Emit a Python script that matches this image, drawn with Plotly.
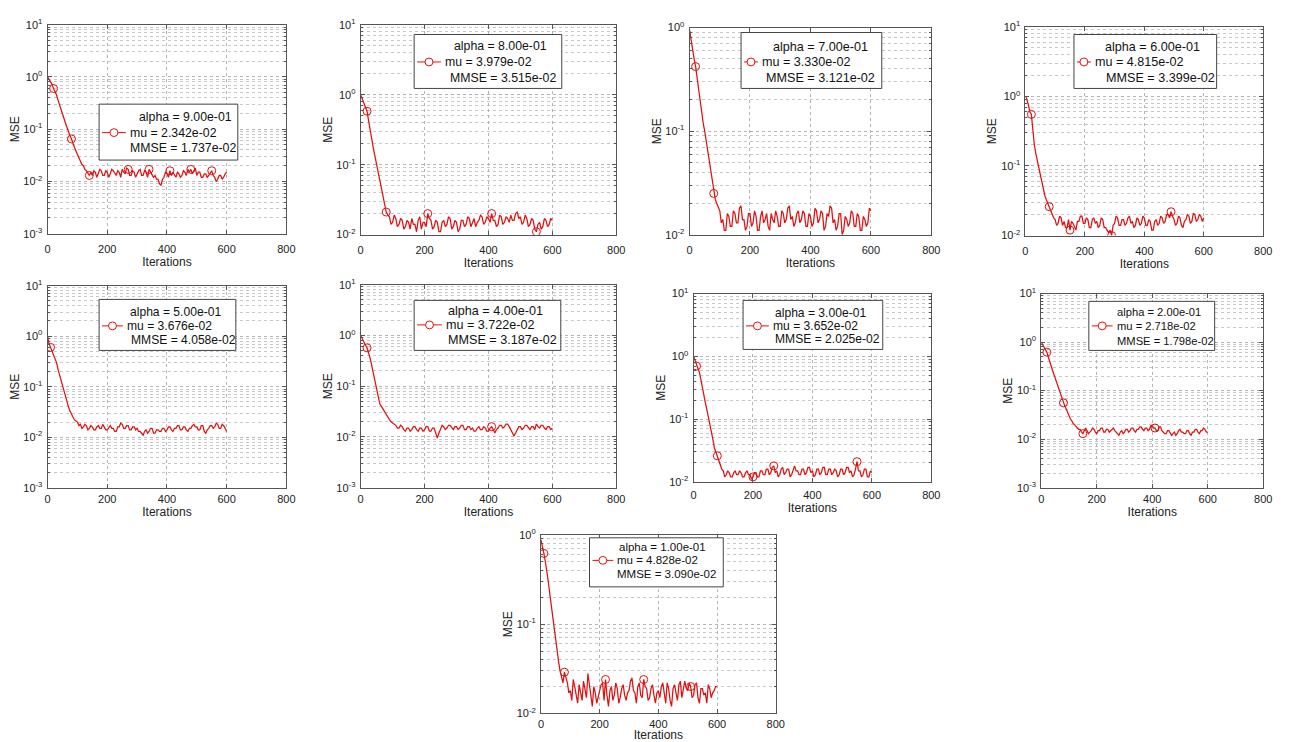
import plotly.graph_objects as go

W, H = 1293, 742

# ---------------- data ----------------
iterations = list(range(0, 601, 5))

alpha_text = ["9.00e-01", "8.00e-01", "7.00e-01", "6.00e-01", "5.00e-01",
              "4.00e-01", "3.00e-01", "2.00e-01", "1.00e-01"]
mu_text = ["2.342e-02", "3.979e-02", "3.330e-02", "4.815e-02", "3.676e-02",
           "3.722e-02", "3.652e-02", "2.718e-02", "4.828e-02"]
mmse_text = ["1.737e-02", "3.515e-02", "3.121e-02", "3.399e-02", "4.058e-02",
             "3.187e-02", "2.025e-02", "1.798e-02", "3.090e-02"]

mse_a09 = [1.0, 0.9, 0.8, 0.72, 0.6, 0.52, 0.45, 0.36, 0.3, 0.24,
           0.2, 0.16, 0.13, 0.105, 0.09, 0.075, 0.065, 0.052, 0.045, 0.038,
           0.033, 0.028, 0.025, 0.021, 0.02, 0.017, 0.016, 0.014, 0.013, 0.015,
           0.013, 0.016, 0.015, 0.012, 0.014, 0.017, 0.016, 0.013, 0.013, 0.016,
           0.015, 0.012, 0.014, 0.017, 0.016, 0.014, 0.013, 0.016, 0.015, 0.012,
           0.017, 0.015, 0.014, 0.018, 0.017, 0.013, 0.013, 0.016, 0.015, 0.012,
           0.014, 0.016, 0.017, 0.013, 0.013, 0.016, 0.015, 0.012, 0.017, 0.015,
           0.014, 0.012, 0.013, 0.011, 0.011, 0.009, 0.0085, 0.011, 0.012, 0.015,
           0.014, 0.012, 0.016, 0.013, 0.015, 0.013, 0.012, 0.015, 0.014, 0.012,
           0.013, 0.016, 0.015, 0.013, 0.017, 0.015, 0.017, 0.014, 0.016, 0.018,
           0.013, 0.015, 0.015, 0.012, 0.012, 0.014, 0.014, 0.012, 0.013, 0.015,
           0.016, 0.013, 0.012, 0.010, 0.011, 0.013, 0.013, 0.011, 0.012, 0.014,
           0.015]
mse_a08 = [1.0, 0.88, 0.75, 0.65, 0.58, 0.42, 0.3, 0.23, 0.17, 0.13,
           0.1, 0.075, 0.055, 0.042, 0.032, 0.026, 0.021, 0.019, 0.018, 0.014,
           0.015, 0.019, 0.017, 0.013, 0.014, 0.017, 0.016, 0.012, 0.013, 0.016,
           0.015, 0.012, 0.017, 0.014, 0.014, 0.011, 0.016, 0.018, 0.012, 0.015,
           0.015, 0.013, 0.02, 0.017, 0.016, 0.012, 0.013, 0.016, 0.015, 0.011,
           0.011, 0.015, 0.016, 0.013, 0.014, 0.018, 0.017, 0.012, 0.013, 0.016,
           0.015, 0.011, 0.012, 0.016, 0.016, 0.013, 0.014, 0.018, 0.017, 0.013,
           0.015, 0.017, 0.013, 0.015, 0.016, 0.019, 0.018, 0.014, 0.015, 0.018,
           0.017, 0.015, 0.02, 0.016, 0.016, 0.013, 0.014, 0.019, 0.018, 0.014,
           0.015, 0.018, 0.017, 0.015, 0.019, 0.016, 0.016, 0.02, 0.021, 0.017,
           0.018, 0.014, 0.015, 0.019, 0.017, 0.013, 0.014, 0.017, 0.016, 0.012,
           0.011, 0.014, 0.015, 0.012, 0.013, 0.017, 0.016, 0.013, 0.014, 0.017,
           0.016]
mse_a07 = [0.95, 0.75, 0.6, 0.5, 0.42, 0.32, 0.25, 0.19, 0.15, 0.12,
           0.1, 0.08, 0.065, 0.05, 0.04, 0.032, 0.025, 0.022, 0.02, 0.018,
           0.017, 0.013, 0.014, 0.011, 0.011, 0.016, 0.015, 0.012, 0.012, 0.017,
           0.016, 0.013, 0.013, 0.018, 0.019, 0.014, 0.014, 0.011, 0.012, 0.016,
           0.016, 0.012, 0.013, 0.017, 0.015, 0.011, 0.011, 0.015, 0.017, 0.013,
           0.014, 0.016, 0.012, 0.011, 0.016, 0.014, 0.013, 0.017, 0.015, 0.012,
           0.012, 0.017, 0.016, 0.013, 0.014, 0.018, 0.019, 0.014, 0.015, 0.012,
           0.013, 0.016, 0.017, 0.013, 0.014, 0.017, 0.016, 0.012, 0.012, 0.016,
           0.015, 0.012, 0.013, 0.018, 0.017, 0.013, 0.014, 0.017, 0.016, 0.011,
           0.012, 0.016, 0.015, 0.019, 0.018, 0.013, 0.014, 0.011, 0.012, 0.016,
           0.016, 0.01, 0.011, 0.015, 0.014, 0.012, 0.013, 0.017, 0.016, 0.012,
           0.012, 0.016, 0.015, 0.011, 0.011, 0.015, 0.014, 0.012, 0.013, 0.018,
           0.017]
mse_a06 = [1.0, 0.9, 0.75, 0.6, 0.55, 0.32, 0.2, 0.15, 0.12, 0.09,
           0.07, 0.055, 0.045, 0.038, 0.033, 0.029, 0.026, 0.022, 0.02, 0.018,
           0.017, 0.014, 0.015, 0.019, 0.018, 0.014, 0.016, 0.013, 0.013, 0.017,
           0.012, 0.016, 0.015, 0.013, 0.012, 0.016, 0.016, 0.019, 0.019, 0.015,
           0.015, 0.018, 0.017, 0.013, 0.013, 0.017, 0.018, 0.015, 0.016, 0.013,
           0.014, 0.018, 0.017, 0.013, 0.013, 0.012, 0.011, 0.012, 0.01, 0.014,
           0.015, 0.019, 0.018, 0.014, 0.014, 0.017, 0.017, 0.014, 0.015, 0.018,
           0.019, 0.015, 0.016, 0.013, 0.014, 0.018, 0.017, 0.014, 0.015, 0.019,
           0.018, 0.014, 0.014, 0.017, 0.016, 0.012, 0.012, 0.016, 0.017, 0.014,
           0.015, 0.019, 0.018, 0.015, 0.016, 0.02, 0.02, 0.018, 0.022, 0.019,
           0.017, 0.014, 0.015, 0.019, 0.018, 0.014, 0.013, 0.016, 0.017, 0.02,
           0.019, 0.015, 0.016, 0.021, 0.02, 0.016, 0.017, 0.02, 0.019, 0.016,
           0.018]
mse_a05 = [1.0, 0.7, 0.6, 0.5, 0.42, 0.36, 0.3, 0.22, 0.17, 0.13,
           0.1, 0.078, 0.06, 0.048, 0.04, 0.033, 0.028, 0.024, 0.022, 0.021,
           0.02, 0.017, 0.018, 0.015, 0.016, 0.018, 0.017, 0.014, 0.015, 0.017,
           0.016, 0.014, 0.014, 0.016, 0.017, 0.015, 0.015, 0.018, 0.016, 0.014,
           0.014, 0.016, 0.017, 0.015, 0.015, 0.013, 0.013, 0.016, 0.016, 0.019,
           0.018, 0.015, 0.015, 0.017, 0.017, 0.014, 0.014, 0.016, 0.016, 0.014,
           0.015, 0.013, 0.013, 0.012, 0.011, 0.013, 0.014, 0.012, 0.013, 0.015,
           0.015, 0.012, 0.012, 0.014, 0.014, 0.013, 0.013, 0.015, 0.015, 0.013,
           0.014, 0.016, 0.016, 0.014, 0.013, 0.015, 0.015, 0.017, 0.017, 0.014,
           0.014, 0.016, 0.016, 0.014, 0.013, 0.015, 0.015, 0.017, 0.018, 0.016,
           0.016, 0.014, 0.014, 0.017, 0.017, 0.013, 0.012, 0.014, 0.015, 0.017,
           0.017, 0.015, 0.016, 0.019, 0.018, 0.015, 0.015, 0.018, 0.017, 0.015,
           0.013]
mse_a04 = [1.0, 0.85, 0.75, 0.65, 0.57, 0.45, 0.35, 0.25, 0.18, 0.13,
           0.1, 0.065, 0.045, 0.04, 0.035, 0.031, 0.028, 0.025, 0.022, 0.02,
           0.019, 0.018, 0.017, 0.015, 0.015, 0.017, 0.016, 0.014, 0.013, 0.015,
           0.015, 0.013, 0.014, 0.016, 0.016, 0.014, 0.013, 0.015, 0.015, 0.013,
           0.014, 0.016, 0.016, 0.013, 0.013, 0.015, 0.015, 0.012, 0.0095, 0.012,
           0.014, 0.017, 0.016, 0.014, 0.015, 0.017, 0.017, 0.015, 0.014, 0.016,
           0.016, 0.014, 0.015, 0.017, 0.017, 0.014, 0.014, 0.016, 0.016, 0.014,
           0.015, 0.013, 0.013, 0.015, 0.016, 0.014, 0.014, 0.016, 0.015, 0.013,
           0.013, 0.015, 0.016, 0.014, 0.012, 0.014, 0.015, 0.017, 0.017, 0.015,
           0.016, 0.018, 0.018, 0.016, 0.014, 0.012, 0.0105, 0.012, 0.014, 0.016,
           0.016, 0.014, 0.015, 0.017, 0.017, 0.015, 0.014, 0.016, 0.016, 0.014,
           0.018, 0.016, 0.015, 0.017, 0.017, 0.015, 0.014, 0.016, 0.016, 0.014,
           0.015]
mse_a03 = [1.0, 0.85, 0.7, 0.62, 0.55, 0.42, 0.3, 0.23, 0.18, 0.14,
           0.11, 0.085, 0.065, 0.048, 0.035, 0.03, 0.026, 0.021, 0.018, 0.016,
           0.015, 0.012, 0.013, 0.015, 0.014, 0.012, 0.012, 0.014, 0.015, 0.013,
           0.013, 0.015, 0.014, 0.012, 0.012, 0.014, 0.015, 0.013, 0.013, 0.011,
           0.012, 0.014, 0.014, 0.012, 0.012, 0.015, 0.015, 0.013, 0.013, 0.016,
           0.016, 0.013, 0.014, 0.017, 0.018, 0.014, 0.015, 0.012, 0.013, 0.016,
           0.017, 0.013, 0.014, 0.016, 0.016, 0.012, 0.013, 0.016, 0.018, 0.015,
           0.015, 0.013, 0.013, 0.016, 0.016, 0.013, 0.014, 0.017, 0.017, 0.014,
           0.015, 0.012, 0.013, 0.016, 0.016, 0.013, 0.014, 0.017, 0.017, 0.013,
           0.013, 0.016, 0.016, 0.013, 0.014, 0.016, 0.015, 0.012, 0.013, 0.016,
           0.016, 0.013, 0.014, 0.017, 0.017, 0.014, 0.015, 0.012, 0.013, 0.016,
           0.021, 0.015, 0.015, 0.012, 0.013, 0.016, 0.016, 0.012, 0.012, 0.015,
           0.014]
mse_a02 = [1.0, 0.9, 0.8, 0.7, 0.62, 0.5, 0.42, 0.33, 0.27, 0.22,
           0.18, 0.15, 0.12, 0.1, 0.085, 0.07, 0.056, 0.048, 0.042, 0.035,
           0.03, 0.026, 0.024, 0.021, 0.02, 0.018, 0.017, 0.016, 0.016, 0.014,
           0.013, 0.015, 0.017, 0.015, 0.013, 0.014, 0.015, 0.017, 0.016, 0.014,
           0.013, 0.015, 0.015, 0.017, 0.017, 0.014, 0.014, 0.016, 0.016, 0.014,
           0.015, 0.016, 0.017, 0.015, 0.014, 0.013, 0.012, 0.014, 0.015, 0.013,
           0.014, 0.016, 0.016, 0.014, 0.015, 0.017, 0.017, 0.015, 0.014, 0.016,
           0.016, 0.018, 0.018, 0.016, 0.015, 0.017, 0.017, 0.015, 0.016, 0.019,
           0.019, 0.017, 0.017, 0.015, 0.015, 0.018, 0.018, 0.015, 0.014, 0.013,
           0.013, 0.015, 0.015, 0.013, 0.012, 0.013, 0.014, 0.012, 0.013, 0.015,
           0.016, 0.014, 0.014, 0.013, 0.013, 0.015, 0.015, 0.013, 0.012, 0.014,
           0.014, 0.016, 0.016, 0.014, 0.013, 0.015, 0.015, 0.017, 0.016, 0.014,
           0.014]
mse_a01 = [0.88, 0.75, 0.62, 0.5, 0.4, 0.3, 0.22, 0.16, 0.12, 0.085,
           0.065, 0.05, 0.038, 0.03, 0.026, 0.022, 0.029, 0.025, 0.022, 0.017,
           0.018, 0.014, 0.024, 0.02, 0.016, 0.013, 0.021, 0.017, 0.014, 0.023,
           0.019, 0.015, 0.028, 0.02, 0.015, 0.012, 0.02, 0.017, 0.013, 0.016,
           0.018, 0.021, 0.022, 0.014, 0.024, 0.016, 0.012, 0.018, 0.02, 0.014,
           0.016, 0.022, 0.019, 0.013, 0.015, 0.019, 0.021, 0.016, 0.014, 0.017,
           0.018, 0.023, 0.025, 0.018, 0.017, 0.013, 0.02, 0.022, 0.016, 0.015,
           0.024, 0.02, 0.019, 0.014, 0.015, 0.019, 0.021, 0.016, 0.013, 0.017,
           0.018, 0.015, 0.02, 0.022, 0.016, 0.013, 0.022, 0.019, 0.014, 0.012,
           0.019, 0.021, 0.017, 0.014, 0.021, 0.023, 0.015, 0.018, 0.023, 0.019,
           0.018, 0.022, 0.02, 0.015, 0.016, 0.021, 0.022, 0.015, 0.013, 0.019,
           0.019, 0.016, 0.017, 0.013, 0.021, 0.019, 0.015, 0.017, 0.018, 0.02,
           0.02]

series = [mse_a09, mse_a08, mse_a07, mse_a06, mse_a05, mse_a04, mse_a03, mse_a02, mse_a01]

# iterations at which the circle markers are drawn
markers_a09 = [20, 80, 140, 270, 340, 410, 480, 550]
markers_a08 = [20, 80, 210, 410, 550]
markers_a07 = [20, 80]
markers_a06 = [20, 80, 150, 290, 490]
markers_a05 = [10]
markers_a04 = [20, 410]
markers_a03 = [10, 80, 200, 270, 550]
markers_a02 = [20, 80, 150, 410]
markers_a01 = [10, 80, 220, 350, 510]
marker_iters = [markers_a09, markers_a08, markers_a07, markers_a06, markers_a05,
                markers_a04, markers_a03, markers_a02, markers_a01]

# y-axis ranges (log10 exponents)
y_ranges = [[-3, 1], [-2, 1], [-2, 0], [-2, 1], [-3, 1], [-3, 1], [-2, 1], [-3, 1], [-2, 0]]
x_ticks = [0, 200, 400, 600, 800]

# ---------------- layout geometry (pixels) ----------------
plot_boxes = [  # left, right, top, bottom
    (45, 286, 17, 230), (361, 619, 17, 231), (693, 937, 20, 231), (1032, 1272, 19, 232),
    (45, 286, 283, 489), (361, 619, 282, 489), (697, 937, 291, 483), (1048, 1272, 291, 489),
    (543, 780, 537, 719),
]
x_label_gap = [5, 5, 5, 5, 1, 1, 3, 1, 0]      # tick label standoff per panel
x_title_gap = [3, 3, 3, 3, 2, 2, 2, 2, 0]      # axis title standoff per panel
# legend box: left, top, right, bottom
legend_boxes = [
    (97, 98, 237, 155), (415, 27, 564, 82), (745, 25, 887, 82), (1081, 27, 1225, 82),
    (97, 297, 235, 349), (415, 298, 563, 349), (747, 298, 888, 348), (1096, 299, 1223, 349),
    (592, 540, 727, 590),
]
# text start x for the three lines, and centre y of the three lines
legend_text_x = [
    (135, 126, 126), (453, 444, 449), (775, 764, 768), (1110, 1100, 1111),
    (126, 123, 127), (447, 445, 447), (777, 775, 777), (1122, 1122, 1122),
    (620, 618, 618),
]
legend_text_y = [
    (111, 127, 143), (39, 55, 71), (40, 55, 71), (40, 55, 71),
    (310, 324, 338), (309, 323, 338), (311, 324, 337), (310, 324, 339),
    (549, 563, 577),
]
legend_font = [12.3, 12.3, 12.6, 12.6, 12.1, 12.6, 12.1, 11.2, 11.5]

RED = "#e01010"
FONT = "Liberation Sans, Arial, sans-serif"
GRID = "#b4b4b4"
AXC = "#555555"


def px(x):
    return x / W


def py(y):
    return 1 - y / H


fig = go.Figure()
layout = dict(
    width=W, height=H, margin=dict(l=0, r=0, t=0, b=0),
    paper_bgcolor="white", plot_bgcolor="white",
    font=dict(family=FONT, size=11, color="#222"),
    showlegend=False,
)
shapes = []
annotations = []

for k in range(9):
    sfx = "" if k == 0 else str(k + 1)
    xa, ya = "x" + sfx, "y" + sfx
    ys = series[k]
    fig.add_trace(go.Scatter(x=iterations, y=ys, mode="lines", xaxis=xa, yaxis=ya,
                             line=dict(color=RED, width=1.25), hoverinfo="skip"))
    mx = marker_iters[k]
    my = [ys[iterations.index(m)] for m in mx]
    fig.add_trace(go.Scatter(x=mx, y=my, mode="markers", xaxis=xa, yaxis=ya,
                             marker=dict(symbol="circle-open", size=8, color=RED,
                                         line=dict(width=1, color=RED)),
                             hoverinfo="skip"))

    lo, hi = y_ranges[k]
    yt = [10.0 ** e for e in range(lo, hi + 1)]
    ytt = ["10<sup>%d</sup>" % e for e in range(lo, hi + 1)]

    l, r, t, b = plot_boxes[k]
    layout["xaxis" + sfx] = dict(
        domain=[px(l), px(r)], anchor=ya, range=[0, 800],
        tickvals=x_ticks, ticktext=[str(v) for v in x_ticks],
        showline=True, linecolor=AXC, linewidth=1, mirror="ticks",
        ticks="inside", ticklen=4, tickcolor=AXC, ticklabelstandoff=x_label_gap[k],
        showgrid=True, gridcolor=GRID, griddash="dot", gridwidth=1,
        zeroline=False, tickfont=dict(size=11, family=FONT, color="#222"),
        title=dict(text="Iterations", standoff=x_title_gap[k],
                   font=dict(size=12, family=FONT)),
    )
    layout["yaxis" + sfx] = dict(
        domain=[py(b), py(t)], anchor=xa, type="log", range=[lo, hi],
        tickvals=yt, ticktext=ytt,
        showline=True, linecolor=AXC, linewidth=1, mirror="ticks",
        ticks="inside", ticklen=4, tickcolor=AXC, ticklabelstandoff=2,
        showgrid=True, gridcolor=GRID, griddash="dot", gridwidth=1,
        minor=dict(dtick="D1", showgrid=True, gridcolor="#c8c8c8", griddash="dot",
                   gridwidth=1, ticks="inside", ticklen=2, tickcolor=AXC),
        zeroline=False, tickfont=dict(size=11, family=FONT, color="#222"),
        title=dict(text="MSE", standoff=1, font=dict(size=12, family=FONT)),
    )

    # ---- legend box drawn with shapes + annotations ----
    bl, bt, br, bb = legend_boxes[k]
    shapes.append(dict(type="rect", xref="paper", yref="paper",
                       x0=px(bl), x1=px(br), y0=py(bb), y1=py(bt),
                       fillcolor="white", line=dict(color="#444", width=1), layer="above"))
    tx = legend_text_x[k]
    ty = legend_text_y[k]
    lines = ["alpha = " + alpha_text[k], "mu = " + mu_text[k], "MMSE = " + mmse_text[k]]
    for i in range(3):
        annotations.append(dict(xref="paper", yref="paper", x=px(tx[i]), y=py(ty[i]),
                                text=lines[i], showarrow=False, xanchor="left",
                                yanchor="middle",
                                font=dict(size=legend_font[k], family=FONT, color="#111")))
    sym_y = ty[1]
    x_start = bl + 3
    x_end = tx[1] - 2
    shapes.append(dict(type="line", xref="paper", yref="paper",
                       x0=px(x_start), x1=px(x_end), y0=py(sym_y), y1=py(sym_y),
                       line=dict(color=RED, width=1), layer="above"))
    cx = (x_start + x_end) / 2
    shapes.append(dict(type="circle", xref="paper", yref="paper",
                       x0=px(cx - 4), x1=px(cx + 4), y0=py(sym_y + 4), y1=py(sym_y - 4),
                       fillcolor="white", line=dict(color=RED, width=1), layer="above"))

layout["shapes"] = shapes
layout["annotations"] = annotations
fig.update_layout(**layout)

fig.write_html("out.html", config={"displayModeBar": False},
               post_script="document.body.style.margin='0';document.body.style.overflow='hidden';")
